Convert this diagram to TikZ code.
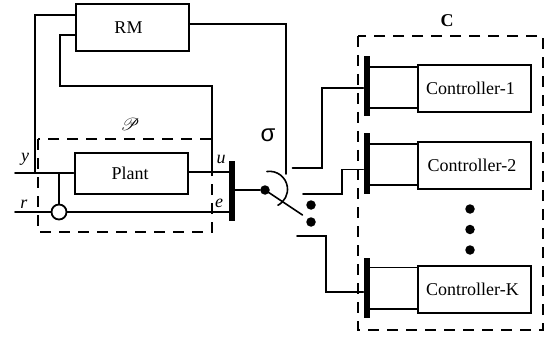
\documentclass[tikz,border=0pt]{standalone}
\usepackage{fontspec}
\usepackage{mathrsfs}
\setmainfont{Liberation Serif}
\newfontfamily\sigfont{Liberation Sans}
\tikzset{
  x=1pt,y=-1pt,
  wire/.style={line width=1.6pt,line cap=round,line join=miter},
  blockbox/.style={draw,line width=2pt,fill=white,minimum width=#1,minimum height=47pt,inner sep=0pt,font=\fontsize{18}{20}\selectfont},
  blockbox/.default=113pt,
  busbar/.style={fill=black,draw=none,minimum width=6pt,minimum height=60pt,inner sep=0pt},
  dashbox/.style={draw,line width=1.6pt,dash pattern=on 11pt off 8pt},
  dotmark/.style={circle,fill=black,draw=none,minimum size=#1,inner sep=0pt},
  lab/.style={inner sep=0pt,font=\fontsize{18}{20}\selectfont\itshape},
}
\begin{document}
\begin{tikzpicture}
\useasboundingbox (0,0) rectangle (545,339);
\fill[white] (0,0) rectangle (545,339);
% dashed enclosures
\draw[dashbox] (38,139) rectangle (212,232);
\draw[dashbox] (358,36) rectangle (543,330);
% blocks
\node[blockbox] (rm) at (132.5,28) {RM\kern8pt};
\node[blockbox,minimum height=41pt] (plant) at (131,173.5) {Plant\kern2pt};
\node[blockbox] (c1) at (474.5,88.5) {Controller-1\kern8pt};
\node[blockbox] (c2) at (474.5,165.5) {Controller-2\kern5pt};
\node[blockbox] (ck) at (474.5,289.5) {Controller-K\kern4pt};
% bars
\node[busbar] (bp) at (232,190.5) {};
\node[busbar] (b1) at (366.5,86.5) {};
\node[busbar] (b2) at (366.5,163.5) {};
\node[busbar] (bk) at (366.5,287.5) {};
% sum and switch
\node[circle,draw,line width=1.8pt,fill=white,minimum size=15pt,inner sep=0pt] (sum) at (59,212) {};
\node[dotmark=9.5pt] (pivot) at (265,190) {};
\node[dotmark=9.5pt] (d1) at (311,205) {};
\node[dotmark=9.5pt] (d2) at (311,222) {};
\node[dotmark=9.5pt] (v1) at (470,209) {};
\node[dotmark=9.5pt] (v2) at (470,229.5) {};
\node[dotmark=9.5pt] (v3) at (470,250) {};
% named free ends
\coordinate (yin) at (15,173);
\coordinate (rin) at (15,212);
\coordinate (armend) at (302.5,215);
\coordinate (t1) at (292.5,168);
\coordinate (t2) at (303,194);
\coordinate (t3) at (297,236);
\coordinate (sigend) at (286,174);
% feedback to RM
\draw[wire] (rm.east |- 0,24) -| (sigend);
\draw[wire] (rm.west |- 0,15) -- (35,15) -- (35,173);
\draw[wire] (rm.west |- 0,35) -- (60,35) -- (60,86) -- (212,86) -- (212,172);
% plant connections
\draw[wire] (yin) -- (plant.west |- yin);
\draw[wire] (59,173) -- (sum.north);
\draw[wire] (plant.east |- 0,172) -- (bp.west |- 0,172);
\draw[wire] (rin) -- (sum.west);
\draw[wire] (sum.east) -- (bp.west |- sum);
% switch
\draw[wire] (bp.east |- pivot) -- (pivot);
\draw[wire] (pivot.center) -- (armend);
\draw[wire] (267,171.5) arc[start angle=-98,end angle=62,radius=18];
% to controllers
\draw[wire] (t1) -- (322,168) -- (322,88) -- (b1.west |- 0,88);
\draw[wire] (t2) -- (342,194) -- (342,169.5) -- (b2.west |- 0,169.5);
\draw[wire] (t3) -- (326,236) -- (326,292) -- (bk.west |- 0,292);
% controller stubs
\draw[wire] (b1.east |- 0,67) -- (c1.west |- 0,67);
\draw[wire] (b1.east |- 0,108) -- (c1.west |- 0,108);
\draw[wire] (b2.east |- 0,144) -- (c2.west |- 0,144);
\draw[wire] (b2.east |- 0,185) -- (c2.west |- 0,185);
\draw[wire] (bk.east |- 0,267.5) -- (ck.west |- 0,267.5);
\draw[wire] (bk.east |- 0,309) -- (ck.west |- 0,309);
% labels
\node[lab] (ly) at (25,159) {y};
\node[lab] (lu) at (221,159) {u};
\node[lab] (lr) at (24,204) {r};
\node[lab] (le) at (219,203) {e};
\node[inner sep=0pt,font=\fontsize{18}{20}\selectfont] (lp) at (130,124) {$\mathscr{P}$};
\node[inner sep=0pt,font=\fontsize{24}{26}\selectfont\sigfont] (ls) at (268,135) {σ};
\node[inner sep=0pt,font=\fontsize{18}{20}\selectfont\bfseries] (lc) at (447,21) {C};
\end{tikzpicture}
\end{document}
